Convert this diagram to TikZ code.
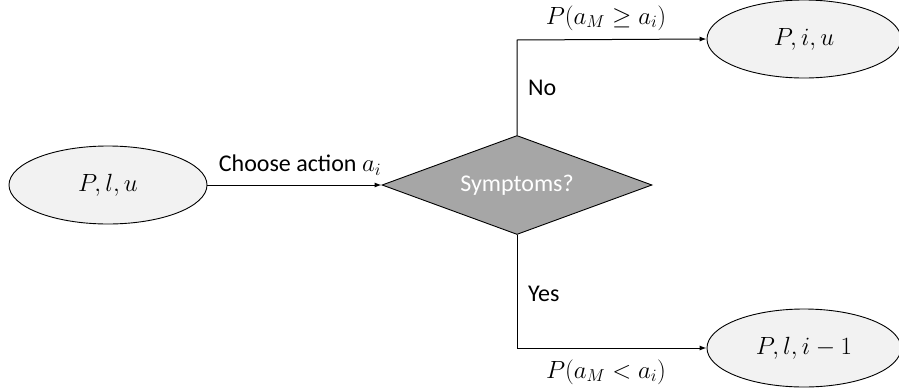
\documentclass[tikz,border=0pt]{standalone}
\usepackage{fontspec}
\setmainfont{Carlito}
\usetikzlibrary{shapes.geometric,arrows.meta}
\begin{document}
\begin{tikzpicture}[x=1pt,y=-1pt,
  state/.style={ellipse,draw=black,line width=0.9pt,fill=gray!10,minimum width=#1,minimum height=78pt,inner sep=0pt,font=\fontsize{26}{30}\selectfont},
  state/.default=198pt,
  decision/.style={diamond,draw=black,line width=0.9pt,fill=black!35,minimum width=270pt,minimum height=99pt,aspect=2.7,inner sep=0pt,text=white,font=\fontsize{24}{28}\selectfont},
  flow/.style={line width=1pt,-{Latex[length=7pt,width=5pt]}},
  lbl/.style={font=\fontsize{24}{28}\selectfont,inner sep=0pt},
  mlbl/.style={font=\fontsize{25}{28}\selectfont,inner sep=0pt}
]
\useasboundingbox (0,0) rectangle (899,391);
\node[state] (start) at (108,185) {$P,l,u$};
\node[decision] (sym) at (517,185) {Symptoms?};
\node[state=194pt] (up) at (804,39) {$P,i,u$};
\node[state=194pt] (down) at (804,348) {$P,l,i-1$};
\coordinate (ucorner) at (517,40);
\coordinate (dcorner) at (517,348);
\draw[flow] (start.east) -- (sym.west);
\draw[flow] (sym.north) -- (ucorner) -- (up.west);
\draw[flow] (sym.south) -- (dcorner) -- (down.west);
\node[lbl] (choose) at (300,165) {Choose action $a_i$};
\node[lbl,anchor=west] (no) at (528,88) {No};
\node[lbl,anchor=west] (yes) at (528,294) {Yes};
\node[mlbl] (pge) at (606,18) {$P(a_M\geq a_i)$};
\node[mlbl] (plt) at (606,372) {$P(a_M<a_i)$};
\end{tikzpicture}
\end{document}
